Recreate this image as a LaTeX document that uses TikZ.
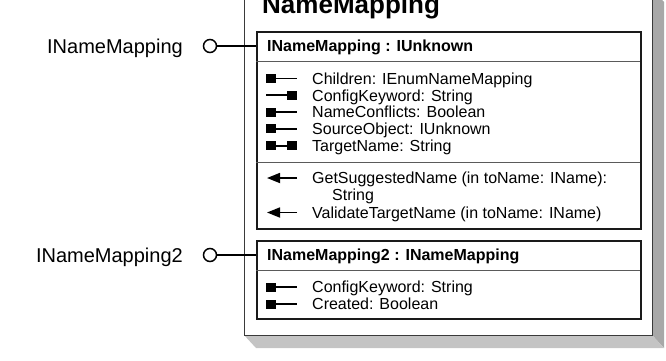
\documentclass[tikz,border=0pt]{standalone}
\usepackage{fontspec}
\setmainfont{Liberation Sans}
\usetikzlibrary{arrows.meta}
\definecolor{shadowR}{HTML}{A8A8A8}
\definecolor{shadowB}{HTML}{C4C4C4}
\definecolor{boxline}{HTML}{1A1A1A}
\definecolor{divline}{HTML}{5A5A5A}
\definecolor{outerline}{HTML}{3A3A3A}
\tikzset{
  ifbox/.style={draw=boxline, line width=1.8pt, fill=white, anchor=north west, inner sep=0pt, minimum width=384pt},
  divider/.style={draw=divline, line width=0.9pt},
  rowtext/.style={anchor=base west, inner sep=0pt, font=\fontsize{16}{17}\selectfont},
  headtext/.style={anchor=base west, inner sep=0pt, font=\fontsize{16}{17}\selectfont\bfseries},
  lbltext/.style={anchor=base east, inner sep=0pt, font=\fontsize{20}{22}\selectfont},
  lolli/.style={circle, draw=black, line width=1.5pt, fill=white, minimum size=13pt, inner sep=0pt},
  conn/.style={draw=black, line width=1.4pt},
  iconline/.style={line width=1.7pt},
  attrL/.pic={\fill (0,-4.5) rectangle (10,4.5); \draw[iconline] (10,0) -- (31,0);},
  attrR/.pic={\draw[iconline] (0,0) -- (21,0); \fill (21,-4.5) rectangle (31,4.5);},
  attrB/.pic={\fill (0,-4.5) rectangle (10,4.5); \draw[iconline] (10,0) -- (21,0); \fill (21,-4.5) rectangle (31,4.5);},
  methpic/.pic={\draw[iconline, -{Triangle[length=13pt,width=10pt]}] (31,0) -- (1,0);},
}
\begin{document}
\begin{tikzpicture}[x=1pt, y=-1pt]
\useasboundingbox (0,0) rectangle (666,360);
\clip (0,0) rectangle (666,360);
% shadow
\fill[shadowR] (652,-10) -- (664,2) -- (664,348) -- (652,335) -- cycle;
\fill[shadowB] (244,335) -- (652,335) -- (664,348) -- (256,348) -- cycle;
% outer box
\node[draw=outerline, line width=1.2pt, fill=white, anchor=north west, inner sep=0pt,
      minimum width=408pt, minimum height=355pt] (outer) at (244,-20) {};
\node[anchor=base west, inner sep=0pt, font=\fontsize{26}{28}\selectfont\bfseries] (title) at (262,13) {NameMapping};
% box 1
\node[ifbox, minimum height=197pt] (b1) at (256,31) {};
\draw[divider] (256,61) -- (640,61);
\draw[divider] (256,162) -- (640,162);
\node[headtext] (h1) at (267,51.7) {INameMapping : IUnknown};
\pic at (266,78.5) {attrL};
\node[rowtext] (a1) at (312,84.2) {Children: IEnumNameMapping};
\pic at (266,95.3) {attrR};
\node[rowtext] (a2) at (312,101) {ConfigKeyword: String};
\pic at (266,112.1) {attrL};
\node[rowtext] (a3) at (312,117.8) {NameConflicts: Boolean};
\pic at (266,128.9) {attrL};
\node[rowtext] (a4) at (312,134.6) {SourceObject: IUnknown};
\pic at (266,145.7) {attrB};
\node[rowtext] (a5) at (312,151.4) {TargetName: String};
\pic at (266,178) {methpic};
\node[rowtext] (m1) at (312,183.7) {GetSuggestedName (in toName: IName):};
\node[rowtext] (m1b) at (332,200) {String};
\pic at (266,212.5) {methpic};
\node[rowtext] (m2) at (312,218.2) {ValidateTargetName (in toName: IName)};
% box 2
\node[ifbox, minimum height=78pt] (b2) at (256,240) {};
\draw[divider] (256,270.5) -- (640,270.5);
\node[headtext] (h2) at (267,260.7) {INameMapping2 : INameMapping};
\pic at (266,287) {attrL};
\node[rowtext] (c1) at (312,292.7) {ConfigKeyword: String};
\pic at (266,304) {attrL};
\node[rowtext] (c2) at (312,309.7) {Created: Boolean};
% lollipops
\node[lolli] (p1) at (210,46) {};
\node[lolli] (p2) at (210,255) {};
\node[lbltext] (l1) at (183,53.2) {INameMapping};
\node[lbltext] (l2) at (183,262.2) {INameMapping2};
\draw[conn] (p1.east) -- (p1.east -| b1.west);
\draw[conn] (p2.east) -- (p2.east -| b2.west);
\end{tikzpicture}
\end{document}
